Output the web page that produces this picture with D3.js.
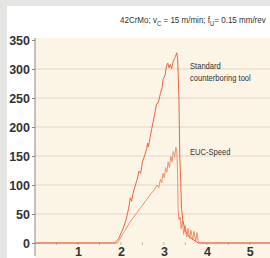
<!DOCTYPE html>
<html>
<head>
<meta charset="utf-8">
<script src="https://cdn.jsdelivr.net/npm/d3@7"></script>
<style>
  body { margin: 0; background: #e5e5e3; }
  svg { display: block; }
</style>
</head>
<body>
<div id="chart"></div>
<script>
// values: [time, force]
const standardTool = [[0,0],[1.86,0],[1.95,8],[2.05,25],[2.12,40],[2.18,60],[2.22,78],[2.25,72],[2.28,85],[2.33,98],
  [2.38,110],[2.42,124],[2.46,120],[2.50,140],[2.55,150],[2.60,163],[2.62,172],[2.64,166],[2.68,182],[2.72,198],
  [2.76,212],[2.80,228],[2.83,240],[2.86,241],[2.88,245],[2.92,258],[2.96,268],[2.98,282],[3.00,285],[3.03,290],
  [3.06,305],[3.09,310],[3.12,302],[3.15,308],[3.18,300],[3.21,312],[3.25,318],[3.27,322],[3.30,328],[3.32,318],
  [3.35,250],[3.37,150],[3.39,110],[3.41,60],[3.44,40],[3.47,30],[3.50,20],[3.55,15],[3.60,10],[3.70,5],[3.80,0],[5.6,0]];
const eucSpeed = [[0,0],[1.92,0],[2.0,10],[2.1,22],[2.2,35],[2.3,45],[2.4,55],[2.5,65],[2.6,75],[2.7,85],[2.78,92],
  [2.84,100],[2.88,95],[2.92,110],[2.95,104],[2.98,120],[3.01,112],[3.04,130],[3.07,122],[3.10,140],[3.13,130],
  [3.16,150],[3.19,140],[3.22,158],[3.25,148],[3.28,165],[3.30,160],[3.32,120],[3.33,60],[3.35,40],[3.38,45],
  [3.40,25],[3.43,38],[3.46,15],[3.50,30],[3.53,10],[3.56,25],[3.60,8],[3.63,22],[3.67,5],[3.70,20],[3.74,3],
  [3.77,18],[3.80,2],[3.84,0],[5.6,0]];
const yTicks = [0, 50, 100, 150, 200, 250, 300, 350];
const xTicks = [1, 2, 3, 4, 5];

const width = 270, height = 258;
const margin = { top: 40, left: 35, bottom: 15, right: 0 };

const svg = d3.select("#chart").append("svg")
  .attr("width", width).attr("height", height);

// white panel and beige plot area
svg.append("rect").attr("x", 7).attr("y", 6).attr("width", width - 7).attr("height", height - 6).attr("fill", "#fff");
svg.append("rect").attr("x", margin.left).attr("y", 38).attr("width", width - margin.left).attr("height", height - 38)
  .attr("fill", "#fcf5e6");

const x = d3.scaleLinear().domain([0, 5.47]).range([margin.left, width]);
const y = d3.scaleLinear().domain([0, 350]).range([243, 40]);

// grid
svg.append("g").selectAll("line").data(yTicks.filter(d => d > 0 && d < 350)).enter().append("line")
  .attr("x1", margin.left).attr("x2", width)
  .attr("y1", d => y(d)).attr("y2", d => y(d))
  .attr("stroke", "#e3d6c2").attr("stroke-width", 1);

// minor ticks on the zero line
svg.append("g").selectAll("line").data(d3.range(0.5, 5.5, 0.5)).enter().append("line")
  .attr("x1", d => x(d)).attr("x2", d => x(d))
  .attr("y1", y(0) - 1).attr("y2", y(0) + 2)
  .attr("stroke", "#bbb");

const bold = "'Liberation Sans', Arial, sans-serif";

// y axis
const yAxis = svg.append("g")
  .attr("transform", `translate(${margin.left},0)`)
  .call(d3.axisLeft(y).tickValues(yTicks).tickSize(3).tickPadding(2));
yAxis.select(".domain").attr("stroke", "#888").attr("d", `M0,38V256`);
yAxis.selectAll(".tick line").attr("stroke", "#888");
yAxis.selectAll("text")
  .attr("fill", "#333").style("font-family", bold)
  .style("font-size", "12.5px").style("font-weight", "bold");

// x axis labels
const xAxis = svg.append("g")
  .attr("transform", `translate(0,${y(0)})`)
  .call(d3.axisBottom(x).tickValues(xTicks).tickFormat(d3.format("d")).tickSize(0).tickPadding(4));
xAxis.select(".domain").remove();
xAxis.selectAll("text")
  .attr("fill", "#333").style("font-family", bold)
  .style("font-size", "12.5px").style("font-weight", "bold");

const line = d3.line().x(d => x(d[0])).y(d => y(d[1]));

svg.append("path").datum(eucSpeed)
  .attr("d", line).attr("fill", "none")
  .attr("stroke", "#f3906c").attr("stroke-width", 1);
svg.append("path").datum(standardTool)
  .attr("d", line).attr("fill", "none")
  .attr("stroke", "#ea6444").attr("stroke-width", 1);

// texts, squeezed horizontally to look like a narrow face
const narrow = "'Liberation Sans', Arial, sans-serif";
function label(px, py, size, sx) {
  return svg.append("g").attr("transform", `translate(${px},${py}) scale(${sx || 0.8},1)`)
    .append("text").style("font-family", narrow).style("font-size", size + "px").attr("fill", "#333");
}

const title = label(120, 23, 9.5, 0.845);
title.append("tspan").text("42CrMo; v");
title.append("tspan").attr("dy", 2.5).style("font-size", "7px").text("C");
title.append("tspan").attr("dy", -2.5).text(" = 15 m/min;  f");
title.append("tspan").attr("dy", 2.5).style("font-size", "7px").text("U");
title.append("tspan").attr("dy", -2.5).text("= 0.15 mm/rev");

label(190, 69, 9.5).text("Standard");
label(190, 81, 9.5).text("counterboring tool");
label(190, 155, 9.5).text("EUC-Speed");
</script>
</body>
</html>
